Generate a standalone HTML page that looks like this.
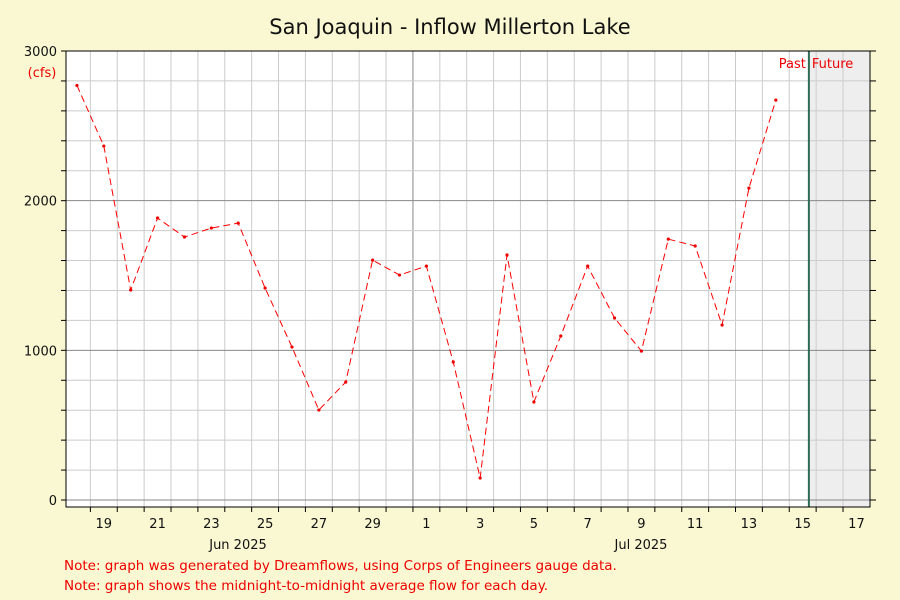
<!DOCTYPE html>
<html><head><meta charset="utf-8"><style>
body{margin:0;background:#f9f8d2;}
svg{display:block;font-family:"DejaVu Sans","Liberation Sans",sans-serif;}
</style></head><body>
<svg id="c" width="900" height="600">
<text x="450" y="34" text-anchor="middle" font-size="21" fill="#111">San Joaquin - Inflow Millerton Lake</text>
<text x="42" y="77" text-anchor="middle" font-size="13" fill="#e00">(cfs)</text>
<text x="64" y="570" font-size="13.5" fill="#e00">Note: graph was generated by Dreamflows, using Corps of Engineers gauge data.</text>
<text x="64" y="590" font-size="13.5" fill="#e00">Note: graph shows the midnight-to-midnight average flow for each day.</text>
</svg>
<script>
const days=[0,1,2,3,4,5,6,7,8,9,10,11,12,13,14,15,16,17,18,19,20,21,22,23,24,25,26];
const flows=[2770,2365,1403,1884,1757,1817,1850,1416,1022,601,788,1603,1503,1563,922,147,1637,655,1096,1563,1216,995,1743,1697,1169,2084,2672];
const yTicks=[0,1000,2000,3000];
const xLabels=["19","21","23","25","27","29","1","3","5","7","9","11","13","15","17"];
const xLabelDays=[1,3,5,7,9,11,13,15,17,19,21,23,25,27,29];
const nowDay=27.73;
const NS="http://www.w3.org/2000/svg";
const svg=document.getElementById('c');
const L=66,R=870,T=51,B=500,AX=507;
const x=t=>63.5+t*26.88;
const y=v=>B-v*(B-T)/3000;
function el(tag,a,p){const e=document.createElementNS(NS,tag);for(const k in a)e.setAttribute(k,a[k]);(p||svg).appendChild(e);return e;}
const bg=el('rect',{x:L,y:T,width:R-L,height:AX-T,fill:'#fff'});


const fut=el('rect',{x:x(nowDay),y:T,width:R-x(nowDay),height:AX-T,fill:'#eeeeee'});


for(let d=1;d<=29;d++){const g=el('line',{x1:x(d),x2:x(d),y1:T,y2:AX,stroke:d==13?'#888':'#ccc','stroke-width':1});


const tk=el('line',{x1:x(d),x2:x(d),y1:AX,y2:AX+5,stroke:'#000'});

}
for(let v=0;v<=3000;v+=200){const major=v%1000==0;const g=el('line',{x1:L,x2:R,y1:y(v),y2:y(v),stroke:major?'#888':'#ccc'});


const t1=el('line',{x1:L-5,x2:L,y1:y(v),y2:y(v),stroke:'#000'});


const t2=el('line',{x1:R,x2:R+6,y1:y(v),y2:y(v),stroke:'#000'});

}
yTicks.forEach(v=>{const t=el('text',{x:L-9,y:y(v)+5,'text-anchor':'end','font-size':13,fill:'#111'});t.textContent=v;

});
xLabels.forEach((s,i)=>{const t=el('text',{x:x(xLabelDays[i]+0.5),y:528,'text-anchor':'middle','font-size':13,fill:'#111'});t.textContent=s;

});
[["Jun 2025",238],["Jul 2025",641]].forEach(([s,px])=>{const t=el('text',{x:px,y:549,'text-anchor':'middle','font-size':13,fill:'#111'});t.textContent=s;

});
const nl=el('line',{x1:x(nowDay),x2:x(nowDay),y1:T,y2:AX,stroke:'#2e6b55','stroke-width':2});


const pt=el('text',{x:x(nowDay)-3,y:68,'text-anchor':'end','font-size':13,fill:'#e00'});pt.textContent='Past';


const ft=el('text',{x:x(nowDay)+3,y:68,'font-size':13,fill:'#e00'});ft.textContent='Future';


const ax=el('path',{d:`M${L} ${T}V${AX}H${R}V${T}M${L} ${T}H${R}`,fill:'none',stroke:'#000'});


const pts=days.map((d,i)=>`${x(d+0.5)},${y(flows[i])}`).join(' ');
const line=el('polyline',{points:pts,fill:'none',stroke:'#f00','stroke-width':1,'stroke-dasharray':'7,4'});


days.forEach((d,i)=>{const c=el('circle',{cx:x(d+0.5),cy:y(flows[i]),r:1.6,fill:'#e00'});

});
</script>
</body></html>
